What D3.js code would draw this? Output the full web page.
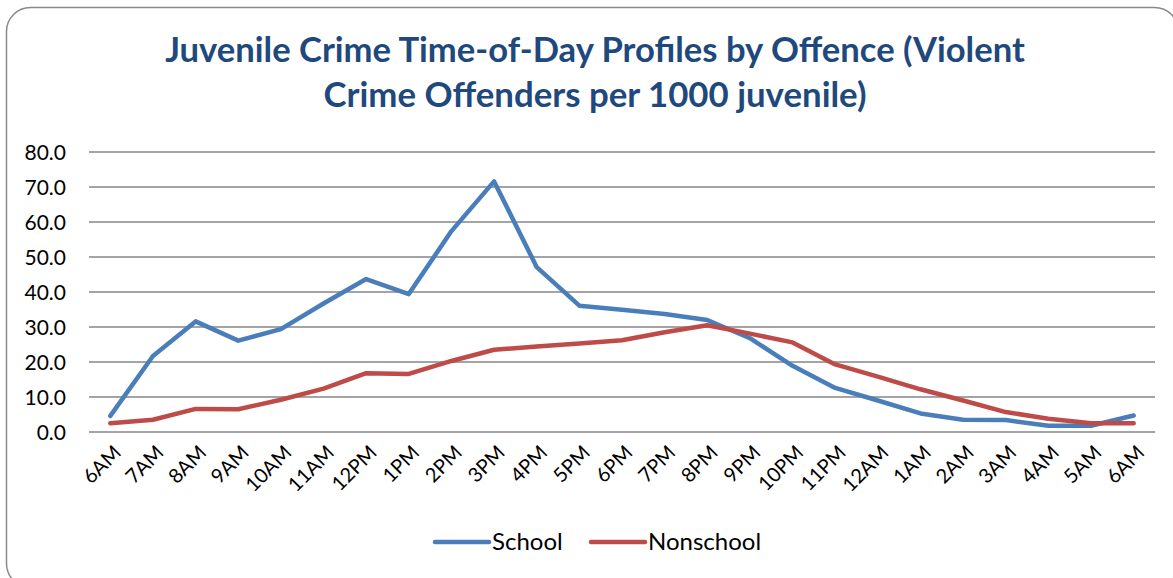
<!DOCTYPE html>
<html>
<head>
<meta charset="utf-8">
<script src="https://cdn.jsdelivr.net/npm/d3@7"></script>
<style>
  body { margin: 0; background: #fff; }
  svg { display: block; }
</style>
</head>
<body>
<div id="chart"></div>
<script>
// hours along the x axis
const hours = ["6AM","7AM","8AM","9AM","10AM","11AM","12PM","1PM","2PM","3PM","4PM","5PM","6PM",
               "7PM","8PM","9PM","10PM","11PM","12AM","1AM","2AM","3AM","4AM","5AM","6AM"];
const school = [4.6,21.7,31.6,26.1,29.4,36.7,43.7,39.4,57.4,71.6,47.1,36.1,34.9,
                33.7,32.0,26.8,18.9,12.6,9.0,5.3,3.5,3.4,1.8,1.8,4.7];
const nonschool = [2.5,3.5,6.6,6.5,9.2,12.4,16.8,16.6,20.3,23.5,24.4,25.3,26.2,
                   28.5,30.5,28.1,25.6,19.3,15.8,12.2,9.0,5.7,3.8,2.5,2.5];
const yTicks = [0,10,20,30,40,50,60,70,80];
const seriesNames = ["School","Nonschool"];
const seriesColors = ["#4a7ebb","#be4b48"];
const titleLines = ["Juvenile Crime Time-of-Day Profiles by Offence (Violent",
                    "Crime Offenders per 1000 juvenile)"];

const width = 1173, height = 578;
const margin = {top: 152, right: 18, bottom: 146, left: 89};
const font = "Lato, 'Open Sans', sans-serif";

const svg = d3.select("#chart").append("svg")
    .attr("width", width)
    .attr("height", height);

// outer chart frame (runs off the right and bottom edges)
svg.append("rect")
    .attr("x", 6.5).attr("y", 7.5)
    .attr("width", 1172).attr("height", 580)
    .attr("rx", 24)
    .attr("fill", "#fff")
    .attr("stroke", "#8a8a8a")
    .attr("stroke-width", 1.5);

// title, each line fitted to the width seen in the original
const titleWidths = [860, 543];
titleLines.forEach((t, i) => {
  const txt = svg.append("text")
      .attr("x", 595)
      .attr("y", 62 + i * 45)
      .attr("text-anchor", "middle")
      .style("font-family", font)
      .style("font-weight", "bold")
      .style("font-size", "30px")
      .attr("fill", "#1f497d")
      .text(t);
  const w = txt.node().getComputedTextLength();
  txt.style("font-size", (30 * titleWidths[i] / w).toFixed(2) + "px");
});

const x = d3.scaleBand()
    .domain(d3.range(hours.length))
    .range([margin.left, width - margin.right]);

const y = d3.scaleLinear()
    .domain([0, 80])
    .range([height - margin.bottom, margin.top]);

// gridlines
svg.append("g")
  .selectAll("line")
  .data(yTicks)
  .join("line")
    .attr("x1", margin.left)
    .attr("x2", width - margin.right)
    .attr("y1", d => y(d))
    .attr("y2", d => y(d))
    .attr("stroke", "#868686")
    .attr("stroke-width", 1.5);

// y axis labels
svg.append("g")
  .selectAll("text")
  .data(yTicks)
  .join("text")
    .attr("x", 66)
    .attr("y", d => y(d))
    .attr("dy", "0.36em")
    .attr("text-anchor", "end")
    .style("font-family", font)
    .style("font-size", "21px")
    .attr("fill", "#000")
    .text(d => d.toFixed(1));

// x axis labels, rotated
svg.append("g")
  .selectAll("text")
  .data(hours)
  .join("text")
    .attr("transform", (d, i) => `translate(${x(i) + x.bandwidth() / 2 + 7},${y(0) + 17}) rotate(-45)`)
    .attr("text-anchor", "end")
    .attr("dy", "0.35em")
    .style("font-family", font)
    .style("font-size", "20px")
    .attr("fill", "#000")
    .text(d => d);

const line = d3.line()
    .x((d, i) => x(i) + x.bandwidth() / 2)
    .y(d => y(d));

[school, nonschool].forEach((s, k) => {
  svg.append("path")
      .datum(s)
      .attr("fill", "none")
      .attr("stroke", seriesColors[k])
      .attr("stroke-width", 4.5)
      .attr("stroke-linejoin", "round")
      .attr("stroke-linecap", "round")
      .attr("d", line);
});

// legend
const legendX = [435, 591];
seriesNames.forEach((n, k) => {
  const g = svg.append("g").attr("transform", `translate(${legendX[k]},542)`);
  g.append("line")
      .attr("x1", 0).attr("x2", 54)
      .attr("stroke", seriesColors[k])
      .attr("stroke-width", 4.5)
      .attr("stroke-linecap", "round");
  g.append("text")
      .attr("x", 57)
      .attr("dy", "0.35em")
      .style("font-family", font)
      .style("font-size", "24px")
      .attr("fill", "#000")
      .text(n);
});
</script>
</body>
</html>
